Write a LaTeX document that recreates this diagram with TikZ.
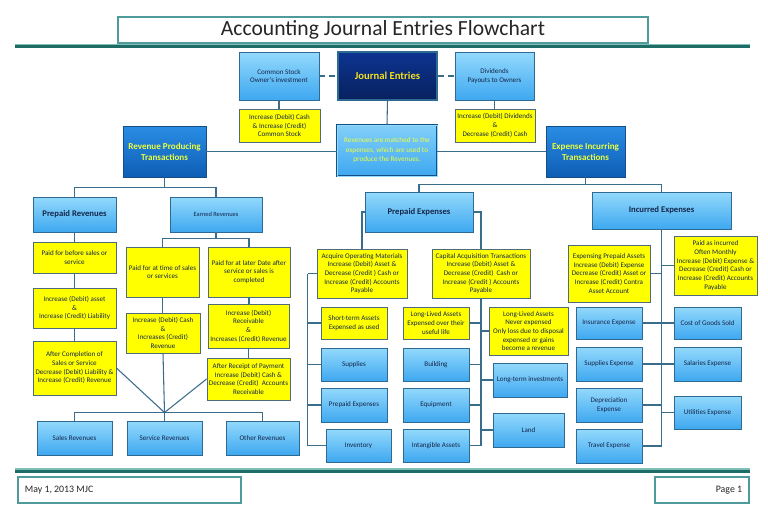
\documentclass[tikz,border=0pt]{standalone}
\usepackage{fontspec}
\setmainfont{Carlito}
\usetikzlibrary{shadows,calc}
\definecolor{lbtop}{HTML}{93D9FC}
\definecolor{lbbot}{HTML}{3EA8F0}
\definecolor{bbord}{HTML}{2F6A92}
\definecolor{yel}{HTML}{FFFF00}
\definecolor{ybord}{HTML}{4F6B7C}
\definecolor{navytext}{HTML}{14264A}
\definecolor{lcol}{HTML}{3A6C8C}
\definecolor{mbtop}{HTML}{2A8DE4}
\definecolor{mbbot}{HTML}{0E5DB4}
\definecolor{mbbord}{HTML}{164F88}
\definecolor{jetop}{HTML}{0D3490}
\definecolor{jebot}{HTML}{08215F}
\definecolor{lime}{HTML}{EEFF3A}
\definecolor{gold}{HTML}{F5E020}
\definecolor{tealL}{HTML}{7FBFB8}
\definecolor{tealD}{HTML}{1D6C66}
\definecolor{tealB}{HTML}{4F9A9A}
% style, name, x1, y1, x2, y2, text  (pixel coordinates, y down)
\newcommand{\bx}[7]{\node[#1, minimum width={(#5-#3)*0.75pt}, minimum height={(#6-#4)*0.75pt}]
  (#2) at ({(#3+#5)/2},{(#4+#6)/2}) {#7};}
\tikzset{
  base/.style={inner sep=0pt, align=center, line width=0.7pt,
    font=\fontsize{5.3}{6.5}\selectfont},
  shad/.style={drop shadow={shadow xshift=1.1pt, shadow yshift=-1.1pt, opacity=0.3}},
  lb/.style={base, shad, draw=bbord, top color=lbtop, bottom color=lbbot, text=navytext},
  lbb/.style={lb, font=\fontsize{6.5}{7.8}\selectfont\bfseries},
  yb/.style={base, shad, draw=ybord, fill=yel, text=navytext},
  mb/.style={base, shad, draw=mbbord, top color=mbtop, bottom color=mbbot, text=lime,
    font=\fontsize{6.8}{8.4}\selectfont\bfseries},
  jebox/.style={base, shad, draw=bbord, top color=jetop, bottom color=jebot, text=gold,
    font=\fontsize{8}{9.6}\selectfont\bfseries, line width=1pt},
  midbox/.style={base, shad, draw=mbbord, double=lbtop, double distance=0.7pt, line width=0.6pt,
    top color=lbtop!80!lbbot, bottom color=lbbot, text=lime,
    font=\fontsize{5.4}{7.1}\selectfont},
  conn/.style={draw=lcol, line width=0.8pt},
  dconn/.style={conn, dash pattern=on 4.5pt off 3pt},
  framebox/.style={draw=tealB, line width=0.8pt, fill=white, inner sep=0pt},
}
\begin{document}
\begin{tikzpicture}[x=0.75pt,y=-0.75pt]
\useasboundingbox (0,0) rectangle (768,512);
\fill[white] (0,0) rectangle (768,512);
% title and rules
\bx{framebox, font=\fontsize{16.2}{19}\selectfont, text=black!85}{title}{118}{17}{648}{43}{Accounting Journal Entries Flowchart}
\draw[tealL, line width=1.2pt] (15,44.6) -- (750,44.6);
\draw[tealD, line width=2pt] (15,46.8) -- (750,46.8);
\draw[tealL, line width=1.2pt] (15,469) -- (750,469);
\draw[tealD, line width=2pt] (15,471.3) -- (750,471.3);
\bx{framebox}{fl}{18}{477}{241}{503}{}
\bx{framebox}{fr}{655}{477}{749}{503}{}
\node[anchor=west, font=\fontsize{7.4}{9}\selectfont, text=black!85] (fltext) at ([xshift=2pt]fl.west) {May 1, 2013 MJC};
\node[anchor=east, font=\fontsize{7.4}{9}\selectfont, text=black!85] (frtext) at ([xshift=-2pt]fr.east) {Page 1};
% header
\bx{lb}{cs}{239}{52}{319}{100}{Common Stock\\Owner's investment}
\bx{jebox}{je}{338}{52}{437}{100}{Journal Entries}
\bx{lb}{dv}{455}{52}{534}{100}{Dividends\\Payouts to Owners}
\bx{yb}{csy}{239}{109}{320}{142}{Increase (Debit) Cash\\\& Increase (Credit)\\Common Stock}
\bx{yb}{dvy}{455}{109}{535}{142}{Increase (Debit) Dividends\\\&\\Decrease (Credit) Cash}
\bx{midbox}{mid}{337}{125}{437}{176}{Revenues are matched to the\\expenses, which are used to\\produce the Revenues.}
\bx{mb}{rpt}{123}{126}{206}{177}{Revenue Producing\\Transactions}
\bx{mb}{eit}{546}{126}{625}{177}{Expense Incurring\\Transactions}
% revenue side
\bx{lbb}{prev}{33}{197}{116}{232}{Prepaid Revenues}
\bx{lb}{ern}{170}{197}{262}{232}{\fontsize{4.8}{6}\selectfont Earned Revenues}
\bx{yb}{pb}{33}{242}{116}{273}{Paid for before sales or\\service}
\bx{yb}{pl}{33}{288}{116}{328}{Increase (Debit) asset\\\&\\Increase (Credit) Liability}
\bx{yb}{pac}{33}{341}{116}{395}{After Completion of\\Sales or Service\\Decrease (Debit) Liability \&\\Increase (Credit) Revenue}
\bx{yb}{pt}{126}{247}{199}{297}{Paid for at time of sales\\or services}
\bx{yb}{plt}{208}{247}{290}{297}{Paid for at later Date after\\service or sales is\\completed}
\bx{yb}{ic}{126}{313}{200}{353}{Increase (Debit) Cash\\\&\\Increases (Credit)\\Revenue}
\bx{yb}{ir}{208}{304}{289}{348}{Increase (Debit)\\Receivable\\\&\\Increases (Credit) Revenue}
\bx{yb}{ar}{207}{358}{290}{400}{After Receipt of Payment\\Increase (Debit) Cash \&\\Decrease (Credit)~~Accounts\\Receivable}
\bx{lb}{sr}{37}{421}{112}{455}{Sales Revenues}
\bx{lb}{svr}{127}{421}{202}{455}{Service Revenues}
\bx{lb}{orv}{226}{421}{299}{455}{Other Revenues}
% expense side
\bx{lbb}{pe}{365}{192}{473}{232}{Prepaid Expenses}
\bx{lbb}{ie}{592}{192}{731}{229}{Incurred Expenses}
\bx{yb}{aom}{317}{249}{407}{298}{Acquire Operating Materials\\Increase (Debit) Asset \&\\Decrease (Credit ) Cash or\\Increase (Credit) Accounts\\Payable}
\bx{yb}{cat}{432}{249}{530}{298}{Capital Acquisition Transactions\\Increase (Debit) Asset \&\\Decrease (Credit)~~Cash or\\Increase (Credit ) Accounts\\Payable}
\bx{yb}{sta}{321}{307}{387}{339}{Short-term Assets\\Expensed as used}
\bx{lb}{sup}{321}{348}{387}{381}{Supplies}
\bx{lb}{ppe}{321}{388}{387}{422}{Prepaid Expenses}
\bx{lb}{inv}{326}{429}{391}{462}{Inventory}
\bx{yb}{lle}{403}{307}{469}{339}{Long-Lived Assets\\Expensed over their\\useful life}
\bx{lb}{bld}{403}{348}{469}{381}{Building}
\bx{lb}{eqp}{403}{388}{469}{422}{Equipment}
\bx{lb}{ia}{403}{429}{469}{462}{Intangible Assets}
\bx{yb}{lln}{489}{307}{568}{355}{Long-Lived Assets\\Never expensed\\Only loss due to disposal\\expensed or gains\\become a revenue}
\bx{lb}{lti}{493}{363}{567}{397}{Long-term investments}
\bx{lb}{land}{493}{413}{564}{447}{Land}
\bx{yb}{epa}{568}{245}{650}{302}{Expensing Prepaid Assets\\Increase (Debit) Expense\\Decrease (Credit) Asset or\\Increase (Credit) Contra\\Asset Account}
\bx{yb}{pai}{674}{236}{757}{295}{Paid as incurred\\Often Monthly\\Increase (Debit) Expense \&\\Decrease (Credit) Cash or\\Increase (Credit) Accounts\\Payable}
\bx{lb}{ins}{576}{307}{642}{339}{Insurance Expense}
\bx{lb}{sue}{576}{347}{642}{381}{Supplies Expense}
\bx{lb}{dep}{576}{388}{642}{422}{Depreciation\\Expense}
\bx{lb}{trv}{576}{429}{642}{463}{Travel Expense}
\bx{lb}{cgs}{674}{307}{741}{339}{Cost of Goods Sold}
\bx{lb}{sal}{674}{347}{741}{381}{Salaries Expense}
\bx{lb}{utl}{674}{396}{741}{429}{Utilities Expense}
% connectors: header
\draw[dconn] (cs.east) -- (je.west);
\draw[dconn] (je.east) -- (dv.west);
\draw[conn] (cs.south) -- (cs.south |- csy.north);
\draw[conn] (dv.south) -- (dv.south |- dvy.north);
\draw[conn] (je.south) -- (mid.north);
\draw[conn] (rpt.east) -- (rpt.east -| mid.west);
\draw[conn] (mid.east |- eit.west) -- (eit.west);
% revenue tree
\draw[conn] (rpt.south) -- ++(0,10) coordinate (j1);
\draw[conn] (j1) -| (prev.north);
\draw[conn] (j1) -| (ern.north);
\draw[conn] (prev.south) -- (pb.north);
\draw[conn] (pb.south) -- (pl.north);
\draw[conn] (pl.south) -- (pac.north);
\draw[conn] (ern.south) -- ++(0,6) coordinate (j2);
\draw[conn] (j2) -| (pt.north);
\draw[conn] (j2) -| (plt.north);
\draw[conn] (pt.south) -- (pt.south |- ic.north);
\draw[conn] (plt.south) -- (plt.south |- ir.north);
\draw[conn] (ir.south) -- (ir.south |- ar.north);
\coordinate (J) at ($(svr.north)+(0,-8)$);
\draw[conn] (pac.east) -- (J);
\draw[conn] (ic.south) -- (J);
\draw[conn] (ar.west) -- (J);
\draw[conn] (J) -- (svr.north);
\draw[conn] (sr.north) -- (sr.north |- J) -| (orv.north);
% expense tree
\draw[conn] (eit.south) -- ++(0,7) coordinate (j3);
\draw[conn] (j3) -| (pe.north);
\draw[conn] (j3) -| (ie.north);
\draw[conn] (pe.west) -| (aom.north);
\draw[conn] (pe.east) -| (cat.north);
\draw[conn] (aom.west) -- ++(-9,0) coordinate (k1);
\draw[conn] (k1) |- (inv.west);
\draw[conn] (k1 |- sta.west) -- (sta.west);
\draw[conn] (k1 |- sup.west) -- (sup.west);
\draw[conn] (k1 |- ppe.west) -- (ppe.west);
\draw[conn] (cat.south) |- (ia.east);
\draw[conn] (cat.south |- lle.east) -- (lle.east);
\draw[conn] (cat.south |- lln.west) -- (lln.west);
\draw[conn] (cat.south |- bld.east) -- (bld.east);
\draw[conn] (cat.south |- lti.west) -- (lti.west);
\draw[conn] (cat.south |- eqp.east) -- (eqp.east);
\draw[conn] (cat.south |- land.west) -- (land.west);
\draw[conn] (ie.south) |- (trv.east);
\draw[conn] (epa.east) -- (epa.east -| ie.south);
\draw[conn] (ie.south |- pai.west) -- (pai.west);
\draw[conn] (ins.east) -- (cgs.west);
\draw[conn] (sue.east) -- (sal.west);
\draw[conn] (dep.east) -- (dep.east -| ie.south);
\draw[conn] (ie.south |- utl.west) -- (utl.west);
\end{tikzpicture}
\end{document}
